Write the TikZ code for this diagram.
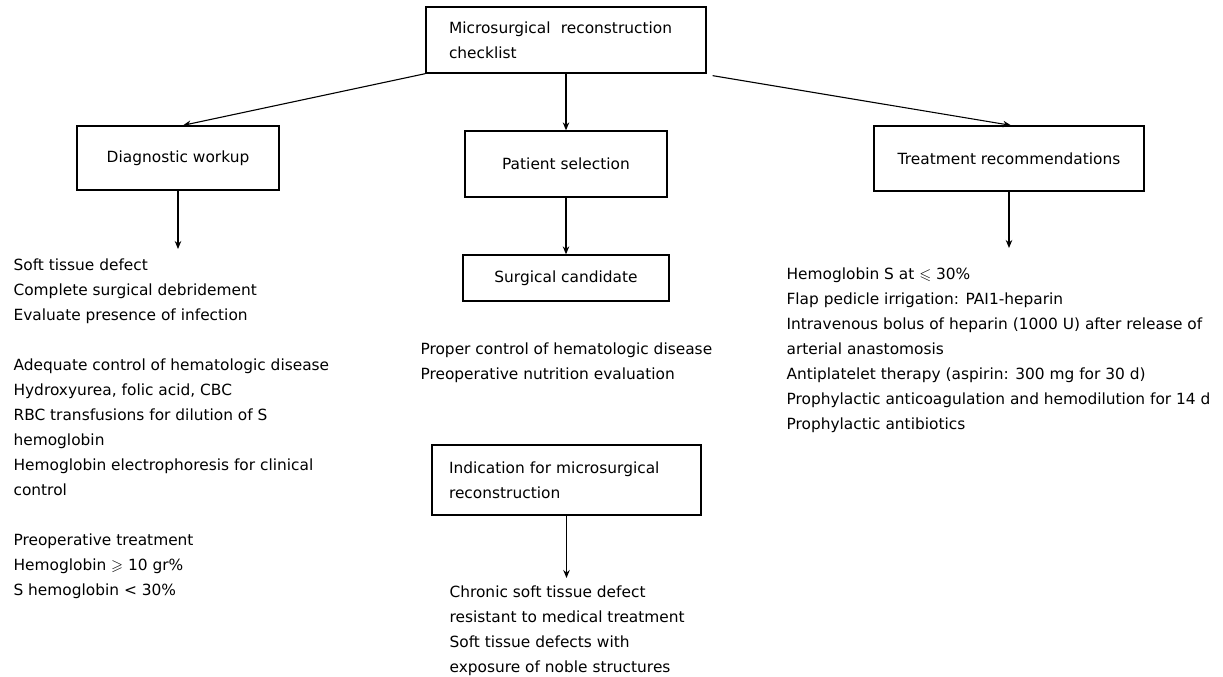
\documentclass[tikz,border=0pt]{standalone}
\usepackage{fontspec}
\setmainfont{DejaVu Sans}
\usepackage{amssymb}
\usepackage{tikz}
\usetikzlibrary{arrows.meta}

\begin{document}
\begin{tikzpicture}[x=1pt,y=-1pt,>={Stealth[length=8pt,width=6.5pt]},line width=1.1pt,
    chkbox/.style={draw,line width=1.3pt,inner sep=0pt,font=\fontsize{15.4}{25}\selectfont},
    itemtxt/.style={anchor=north west,align=left,inner sep=0pt,font=\fontsize{15.4}{25}\selectfont}]
    \useasboundingbox (0,0) rectangle (1223,677);
    % boxes
    \node[chkbox,minimum width=280pt,minimum height=66pt,text width=234pt,inner xsep=23pt,align=left] (top) at (566,40) {Microsurgical\ \ reconstruction\\checklist};
    \node[chkbox,minimum width=202pt,minimum height=64pt] (diag) at (178,158) {Diagnostic workup};
    \node[chkbox,minimum width=202pt,minimum height=66pt] (pat) at (566,164) {Patient selection};
    \node[chkbox,minimum width=270pt,minimum height=65pt] (treat) at (1009,158.5) {Treatment recommendations};
    \node[chkbox,minimum width=206pt,minimum height=46pt] (cand) at (566,278) {Surgical candidate};
    \node[chkbox,minimum width=269pt,minimum height=70pt,text width=235pt,inner xsep=17pt,align=left] (indic) at (566.5,480) {Indication for microsurgical\\reconstruction};
    % lists under the boxes
    \node[itemtxt] (diaglist) at (13,258) {Soft tissue defect\\
        Complete surgical debridement\\
        Evaluate presence of infection\\[25pt]
        Adequate control of hematologic disease\\
        Hydroxyurea, folic acid, CBC\\
        RBC transfusions for dilution of S\\
        hemoglobin\\
        Hemoglobin electrophoresis for clinical\\
        control\\[25pt]
        Preoperative treatment\\
        Hemoglobin $\geqslant$ 10 gr\%\\
        S hemoglobin < 30\%};
    \node[itemtxt] (candlist) at (420,342) {Proper control of hematologic disease\\
        Preoperative nutrition evaluation};
    \node[itemtxt] (indlist) at (449,585) {Chronic soft tissue defect\\
        resistant to medical treatment\\
        Soft tissue defects with\\
        exposure of noble structures};
    \node[itemtxt] (treatlist) at (786,267) {Hemoglobin S at $\leqslant$ 30\%\\
        Flap pedicle irrigation: PAI1-heparin\\
        Intravenous bolus of heparin (1000 U) after release of\\
        arterial anastomosis\\
        Antiplatelet therapy (aspirin: 300 mg for 30 d)\\
        Prophylactic anticoagulation and hemodilution for 14 d\\
        Prophylactic antibiotics};
    % free ends of the arrows
    \coordinate (diagend) at (178,249);
    \coordinate (treatend) at (1009,248);
    \coordinate (indend) at (566.5,578);
    % arrows
    \draw[->] (top.south west) -- ([xshift=5pt]diag.north);
    \draw[->] (top) -- (pat);
    \draw[->] ([xshift=6pt,yshift=-2pt]top.south east) -- ([xshift=2pt]treat.north);
    \draw[->] (diag) -- (diagend);
    \draw[->] (pat) -- (cand);
    \draw[->] (treat) -- (treatend);
    \draw[->] (indic) -- (indend);
\end{tikzpicture}
\end{document}
